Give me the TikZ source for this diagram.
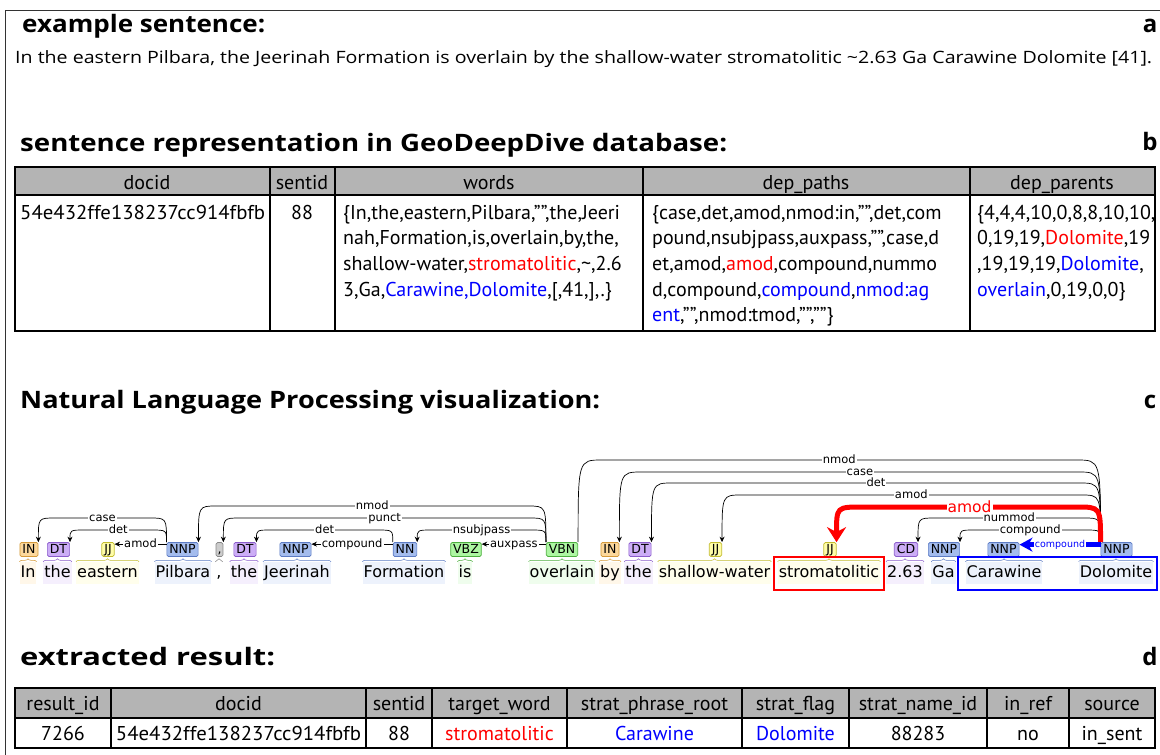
\documentclass[tikz,border=0pt]{standalone}
\usepackage{fontspec}
\usepackage{graphicx}
\setmainfont{PT Sans}
\newfontfamily\ttl{Open Sans}
\newfontfamily\dv{DejaVu Sans}
\usetikzlibrary{arrows.meta,calc,decorations.pathreplacing}
\newcommand\fs[1]{\fontsize{#1}{#1}\selectfont}
% tag colours
\definecolor{inF}{HTML}{FCD89C}\definecolor{inD}{HTML}{D69A3A}\definecolor{inB}{HTML}{FFF7E9}
\definecolor{dtF}{HTML}{CCADF6}\definecolor{dtD}{HTML}{8A5CCB}\definecolor{dtB}{HTML}{F5EFFD}
\definecolor{jjF}{HTML}{FFFDA8}\definecolor{jjD}{HTML}{C3BC2E}\definecolor{jjB}{HTML}{FFFEEC}
\definecolor{nnF}{HTML}{A4BCED}\definecolor{nnD}{HTML}{5C7BC4}\definecolor{nnB}{HTML}{EDF2FC}
\definecolor{vbF}{HTML}{ADF6A2}\definecolor{vbD}{HTML}{4CAF3E}\definecolor{vbB}{HTML}{EFFDED}
\definecolor{puF}{HTML}{CCCCCC}\definecolor{puD}{HTML}{888888}
\definecolor{hdr}{HTML}{B4B4B4}
\newcommand\deparc[5][]{%
  \pgfmathsetmacro\dd{14+0.12*(542-#4)}%
  \draw[arcl,#1] let \p1=(#2.north west), \p2=(#3.north east) in
    (\p1) .. controls (\x1,-#4pt) .. (\x1-\dd pt,-#4pt)
    -- node[lab,midway]{#5} (\x2+\dd pt,-#4pt)
    .. controls (\x2,-#4pt) .. (\p2);}
\newcommand\flatarc[4][]{%
  \draw[arcl,#1] ([yshift=-2pt]#2.north west) -- node[lab,midway]{#4} ([yshift=-2pt]#3.north east);}
\newcommand\fitw[2]{\resizebox{#1pt}{\height}{#2}}
\begin{document}
\begin{tikzpicture}[x=1pt,y=-1pt,
  title/.style={font=\ttl\bfseries\fs{24}, anchor=base west, inner sep=0pt},
  letter/.style={font=\ttl\bfseries\fs{24}, anchor=base, inner sep=0pt},
  tb/.style={font=\fs{20}, anchor=base west, inner sep=0pt},
  tc/.style={font=\fs{20}, anchor=base, inner sep=0pt},
  tbl/.style={line width=1.6pt},
  word/.style={font=\dv\fs{16}, inner xsep=1pt, inner ysep=0pt, text height=12pt, text depth=4pt, minimum height=22pt, anchor=center},
  tag/.style={draw, rounded corners=1.5pt, font=\dv\fs{12.5}, inner xsep=2.5pt, inner ysep=0pt, text height=9pt, text depth=1.5pt, minimum height=14pt, line width=0.7pt},
  brc/.style={draw=#1, line width=0.5pt, decorate, decoration={brace, amplitude=3pt}},
  arcl/.style={line width=0.7pt, -{Stealth[length=5.5pt,width=5pt]}},
  lab/.style={fill=white, inner sep=1pt, font=\dv\fs{11.5}, text height=8.5pt, text depth=2pt},
]
\useasboundingbox (0,0) rectangle (1160,755);
\fill[white] (0,0) rectangle (1160,755);
\draw[line width=1pt, black!80] (5,756) -- (5,10) -- (1162,10);

% ---------- a ----------
\node[title] (ta) at (22,32) {\fitw{243}{example sentence:}};
\node[letter] (la) at (1150,32) {a};
\node[font=\ttl\fs{17}, anchor=base west, inner sep=0pt] (sent) at (15,63) {\fitw{1137}{In the eastern Pilbara, the Jeerinah Formation is overlain by the shallow-water stromatolitic \textasciitilde 2.63 Ga Carawine Dolomite [41].}};

% ---------- b ----------
\node[title] (tbt) at (20,151) {\fitw{707}{sentence representation in GeoDeepDive database:}};
\node[letter] (lb) at (1150,150) {b};
\fill[hdr] (15,167) rectangle (1155,195);
\draw[tbl] (15,167) rectangle (1155,331);
\draw[tbl] (15,195) -- (1155,195);
\foreach \x in {270,335,643,970} \draw[tbl] (\x,167) -- (\x,331);
\node[tc] (h1) at (147,189) {docid};
\node[tc] (h2) at (302,189) {sentid};
\node[tc] (h3) at (489,189) {words};
\node[tc] (h4) at (806,189) {dep\_paths};
\node[tc] (h5) at (1062,189) {dep\_parents};
\node[tb] (d1) at (20,219) {\fitw{245}{54e432ffe138237cc914fbfb}};
\node[tc] (d2) at (302,219) {88};
\node[tb] (wa) at (343,219) {\{In,the,eastern,Pilbara,"",the,Jeeri};
\node[tb] (wb) at (343,244.7) {nah,Formation,is,overlain,by,the,};
\node[tb] (wc) at (343,270.4) {shallow-water,\textcolor{red}{stromatolitic},\textasciitilde,2.6};
\node[tb] (wd) at (343,296.1) {3,Ga,\textcolor{blue}{Carawine,Dolomite},[,41,],.\}};
\node[tb] (pa) at (652,219) {\{case,det,amod,nmod:in,"",det,com};
\node[tb] (pb) at (652,244.7) {pound,nsubjpass,auxpass,"",case,d};
\node[tb] (pc) at (652,270.4) {et,amod,\textcolor{red}{amod},compound,nummo};
\node[tb] (pd) at (652,296.1) {d,compound,\textcolor{blue}{compound},\textcolor{blue}{nmod:ag}};
\node[tb] (pe) at (652,321.8) {\textcolor{blue}{ent},"",nmod:tmod,"",""\}};
\node[tb] (qa) at (977,219) {\{4,4,4,10,0,8,8,10,10,};
\node[tb] (qb) at (977,244.7) {0,19,19,\textcolor{red}{Dolomite},19};
\node[tb] (qc) at (977,270.4) {,19,19,19,\textcolor{blue}{Dolomite},};
\node[tb] (qd) at (977,296.1) {\textcolor{blue}{overlain},0,19,0,0\}};

% ---------- c ----------
\node[title] (tct) at (20,408) {\fitw{580}{Natural Language Processing visualization:}};
\node[letter] (lc) at (1150,408) {c};

% words
\node[word, fill=inB] (w1) at (28,573) {In};
\node[word, fill=dtB] (w2) at (57.5,573) {the};
\node[word, fill=jjB] (w3) at (107.5,573) {eastern};
\node[word, fill=nnB] (w4) at (183,573) {Pilbara};
\node[word] (w5) at (219,573) {,};
\node[word, fill=dtB] (w6) at (244,573) {the};
\node[word, fill=nnB] (w7) at (297,573) {Jeerinah};
\node[word, fill=nnB] (w8) at (404,573) {Formation};
\node[word, fill=vbB] (w9) at (465,573) {is};
\node[word, fill=vbB] (w10) at (562,573) {overlain};
\node[word, fill=inB] (w11) at (610,573) {by};
\node[word, fill=dtB] (w12) at (638.5,573) {the};
\node[word, fill=jjB] (w13) at (714.5,573) {shallow-water};
\node[word, fill=jjB] (w14) at (829,573) {stromatolitic};
\node[word, fill=dtB] (w15) at (905,573) {2.63};
\node[word, fill=nnB] (w16) at (943.5,573) {Ga};
\node[word, fill=nnB] (w17) at (1004,573) {Carawine};
\node[word, fill=nnB] (w18) at (1116,573) {Dolomite};

% braces
\draw[brc=inD] (w1.north west) -- (w1.north east);
\draw[brc=dtD] (w2.north west) -- (w2.north east);
\draw[brc=jjD] (w3.north west) -- (w3.north east);
\draw[brc=nnD] (w4.north west) -- (w4.north east);
\draw[brc=puD] (w5.north west) -- (w5.north east);
\draw[brc=dtD] (w6.north west) -- (w6.north east);
\draw[brc=nnD] (w7.north west) -- (w7.north east);
\draw[brc=nnD] (w8.north west) -- (w8.north east);
\draw[brc=vbD] (w9.north west) -- (w9.north east);
\draw[brc=vbD] (w10.north west) -- (w10.north east);
\draw[brc=inD] (w11.north west) -- (w11.north east);
\draw[brc=dtD] (w12.north west) -- (w12.north east);
\draw[brc=jjD] (w13.north west) -- (w13.north east);
\draw[brc=jjD] (w14.north west) -- (w14.north east);
\draw[brc=dtD] (w15.north west) -- (w15.north east);
\draw[brc=nnD] (w16.north west) -- (w16.north east);
\draw[brc=nnD] (w17.north west) -- (w17.north east);
\draw[brc=nnD] (w18.north west) -- (w18.north east);

% tags
\node[tag, fill=inF, draw=inD] (t1) at (29,549.5) {IN};
\node[tag, fill=dtF, draw=dtD] (t2) at (58.5,549.5) {DT};
\node[tag, fill=jjF, draw=jjD] (t3) at (108,549.5) {JJ};
\node[tag, fill=nnF, draw=nnD] (t4) at (182.5,549.5) {NNP};
\node[tag, fill=puF, draw=puD, inner xsep=1.5pt] (t5) at (219.5,549.5) {,};
\node[tag, fill=dtF, draw=dtD] (t6) at (245,549.5) {DT};
\node[tag, fill=nnF, draw=nnD] (t7) at (295.5,549.5) {NNP};
\node[tag, fill=nnF, draw=nnD] (t8) at (405,549.5) {NN};
\node[tag, fill=vbF, draw=vbD] (t9) at (466,549.5) {VBZ};
\node[tag, fill=vbF, draw=vbD] (t10) at (562,549.5) {VBN};
\node[tag, fill=inF, draw=inD] (t11) at (610,549.5) {IN};
\node[tag, fill=dtF, draw=dtD] (t12) at (640,549.5) {DT};
\node[tag, fill=jjF, draw=jjD] (t13) at (715.5,549.5) {JJ};
\node[tag, fill=jjF, draw=jjD] (t14) at (830,549.5) {JJ};
\node[tag, fill=dtF, draw=dtD] (t15) at (906,549.5) {CD};
\node[tag, fill=nnF, draw=nnD] (t16) at (944,549.5) {NNP};
\node[tag, fill=nnF, draw=nnD] (t17) at (1003.5,549.5) {NNP};
\node[tag, fill=nnF, draw=nnD] (t18) at (1116.5,549.5) {NNP};

% arcs (left part)
\deparc{t4}{t1}{518}{case}
\deparc{t4}{t2}{530}{det}
\flatarc{t4}{t3}{amod}
\deparc{t10}{t4}{506}{nmod}
\deparc{t10}{t5}{518}{punct}
\deparc{t8}{t6}{530}{det}
\flatarc{t8}{t7}{compound}
\deparc{t10}{t8}{530}{nsubjpass}
\flatarc{t10}{t9}{auxpass}
% arcs (right part)
\deparc[-]{t18}{t10}{460}{nmod}
\deparc{t18}{t11}{472}{case}
\deparc{t18}{t12}{483}{det}
\deparc{t18}{t13}{495}{amod}
\deparc{t18}{t15}{518}{nummod}
\deparc{t18}{t16}{530}{compound}
\draw[line width=5pt, red, -{Stealth[length=15pt,width=19pt]}] let \p1=(t18.north west), \p2=(t14.north east) in
    (\p1) .. controls (\x1,-507pt) .. (\x1-24pt,-507pt)
    -- node[midway, fill=white, inner sep=1pt, font=\dv\fs{15.5}, text=red]{amod} (\x2+26pt,-507pt)
    .. controls (\x2,-507pt) .. (\p2);
\draw[line width=4.5pt, blue, -{Stealth[length=13pt,width=14pt]}] ([yshift=-2.5pt]t18.north west) -- node[midway, fill=white, inner sep=0.8pt, font=\dv\fs{9.5}, text=blue]{compound} ([yshift=-2.5pt]t17.north east);

\draw[red, line width=2.5pt] (774,557) rectangle (884,590);
\draw[blue, line width=2.5pt] (958,557) rectangle (1157,590);

% ---------- d ----------
\node[title] (tdt) at (20,665) {\fitw{255}{extracted result:}};
\node[letter] (ld) at (1150,665) {d};
\fill[hdr] (15,688) rectangle (1155,718);
\draw[tbl] (15,688) rectangle (1155,748);
\draw[tbl] (15,718) -- (1155,718);
\foreach \x in {111,366,432,567,742,849,987,1069} \draw[tbl] (\x,688) -- (\x,748);
\node[tc] (e1) at (63,710) {result\_id};
\node[tc] (e2) at (238.5,710) {docid};
\node[tc] (e3) at (399,710) {sentid};
\node[tc] (e4) at (499.5,710) {target\_word};
\node[tc] (e5) at (654.5,710) {strat\_phrase\_root};
\node[tc] (e6) at (795.5,710) {strat\_flag};
\node[tc] (e7) at (918,710) {strat\_name\_id};
\node[tc] (e8) at (1028,710) {in\_ref};
\node[tc] (e9) at (1112,710) {source};
\node[tc] (f1) at (63,740) {7266};
\node[tc] (f2) at (238.5,740) {\fitw{245}{54e432ffe138237cc914fbfb}};
\node[tc] (f3) at (399,740) {88};
\node[tc, text=red] (f4) at (499.5,740) {stromatolitic};
\node[tc, text=blue] (f5) at (654.5,740) {Carawine};
\node[tc, text=blue] (f6) at (795.5,740) {Dolomite};
\node[tc] (f7) at (918,740) {88283};
\node[tc] (f8) at (1028,740) {no};
\node[tc] (f9) at (1112,740) {in\_sent};
\end{tikzpicture}
\end{document}
